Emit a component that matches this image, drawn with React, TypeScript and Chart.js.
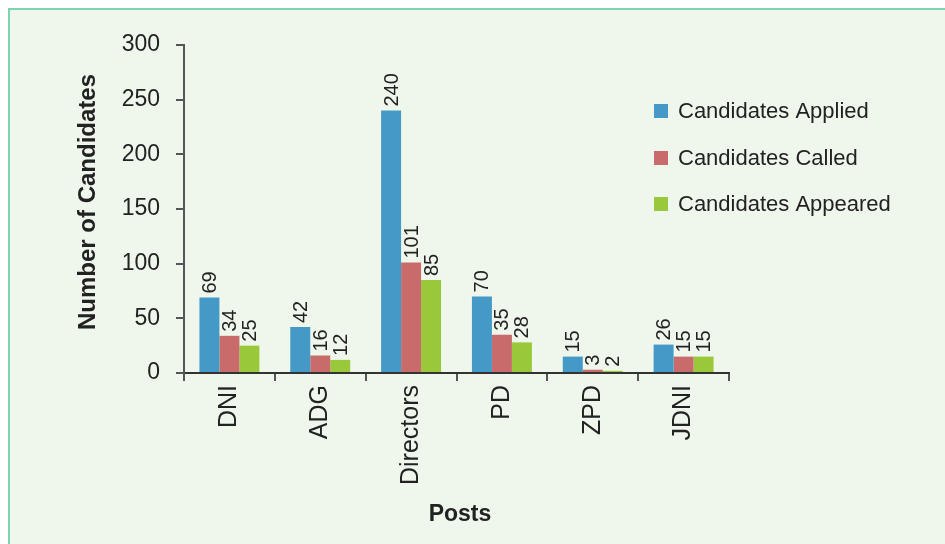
import React, { useEffect, useRef } from "react";
import { Chart, registerables } from "chart.js";

Chart.register(...registerables);

const categories = ["DNI", "ADG", "Directors", "PD", "ZPD", "JDNI"];
const seriesNames = ["Candidates Applied", "Candidates Called", "Candidates Appeared"];
const applied = [69, 42, 240, 70, 15, 26];
const called = [34, 16, 101, 35, 3, 15];
const appeared = [25, 12, 85, 28, 2, 15];
const colors = ["#4599c6", "#c86b6a", "#99c93a"];
const yTitle = "Number of Candidates";
const xTitle = "Posts";
const FONT = "'Liberation Sans', Arial, sans-serif";

const valueLabels = {
  id: "valueLabels",
  afterDatasetsDraw(chart: any) {
    const ctx = chart.ctx;
    ctx.save();
    ctx.font = `20px ${FONT}`;
    ctx.fillStyle = "#222";
    ctx.textAlign = "left";
    ctx.textBaseline = "middle";
    chart.data.datasets.forEach((ds: any, i: number) => {
      const meta = chart.getDatasetMeta(i);
      meta.data.forEach((bar: any, j: number) => {
        ctx.save();
        ctx.translate(bar.x + 1, bar.y - 4);
        ctx.rotate(-Math.PI / 2);
        ctx.fillText(String(ds.data[j]), 0, 0);
        ctx.restore();
      });
    });
    ctx.restore();
  },
};

const customLegend = {
  id: "customLegend",
  afterDraw(chart: any) {
    const ctx = chart.ctx;
    ctx.save();
    ctx.font = `22px ${FONT}`;
    ctx.textBaseline = "middle";
    ctx.textAlign = "left";
    const rows = [103, 150, 196];
    seriesNames.forEach((name, i) => {
      ctx.fillStyle = colors[i];
      ctx.fillRect(646, rows[i] - 7, 14, 14);
      ctx.fillStyle = "#222";
      ctx.fillText(name, 670, rows[i] + 1);
    });
    ctx.restore();
  },
};

const axisTitles = {
  id: "axisTitles",
  afterDraw(chart: any) {
    const ctx = chart.ctx;
    ctx.save();
    ctx.fillStyle = "#222";
    ctx.textAlign = "center";
    ctx.textBaseline = "middle";
    ctx.font = `bold 23px ${FONT}`;
    ctx.fillText(xTitle, 452, 507);
    ctx.font = `bold 24px ${FONT}`;
    ctx.translate(80, 194);
    ctx.rotate(-Math.PI / 2);
    ctx.fillText(yTitle, 0, 0);
    ctx.restore();
  },
};

const background = {
  id: "background",
  beforeDraw(chart: any) {
    const ctx = chart.ctx;
    ctx.save();
    ctx.fillStyle = "#eff7ed";
    ctx.fillRect(0, 0, chart.width, chart.height);
    ctx.fillStyle = "#7fd4b0";
    ctx.fillRect(0, 0, chart.width, 2);
    ctx.fillRect(0, 0, 2, chart.height);
    ctx.restore();
  },
};

export default function App() {
  const ref = useRef<HTMLCanvasElement>(null);
  useEffect(() => {
    const chart = new Chart(ref.current!, {
      type: "bar",
      data: {
        labels: categories,
        datasets: [
          { label: seriesNames[0], data: applied, backgroundColor: colors[0] },
          { label: seriesNames[1], data: called, backgroundColor: colors[1] },
          { label: seriesNames[2], data: appeared, backgroundColor: colors[2] },
        ],
      },
      options: {
        animation: false,
        responsive: true,
        maintainAspectRatio: false,
        layout: { padding: { top: 37, right: 216, left: 0, bottom: 0 } },
        datasets: { bar: { categoryPercentage: 0.66, barPercentage: 1 } },
        plugins: { legend: { display: false }, tooltip: { enabled: false } },
        scales: {
          x: {
            afterFit(scale: any) { scale.height = 171; },
            grid: { drawOnChartArea: false, drawTicks: true, tickLength: 8, color: "#555", lineWidth: 2, offset: true },
            border: { color: "#333", width: 2 },
            ticks: { minRotation: 90, maxRotation: 90, padding: 4, color: "#222", font: { size: 25, family: FONT } },
          },
          y: {
            min: 0,
            max: 300,
            afterFit(scale: any) { scale.width = 176; },
            grid: { drawOnChartArea: false, drawTicks: true, tickLength: 8, color: "#555", lineWidth: 2 },
            border: { color: "#555", width: 2 },
            ticks: { stepSize: 50, padding: 16, color: "#222", font: { size: 23, family: FONT } },
          },
        },
      } as any,
      plugins: [background, valueLabels, customLegend, axisTitles],
    });
    return () => chart.destroy();
  }, []);
  return (
    <div style={{ position: "fixed", left: 8, top: 8, width: 937, height: 536 }}>
      <canvas ref={ref} />
    </div>
  );
}
